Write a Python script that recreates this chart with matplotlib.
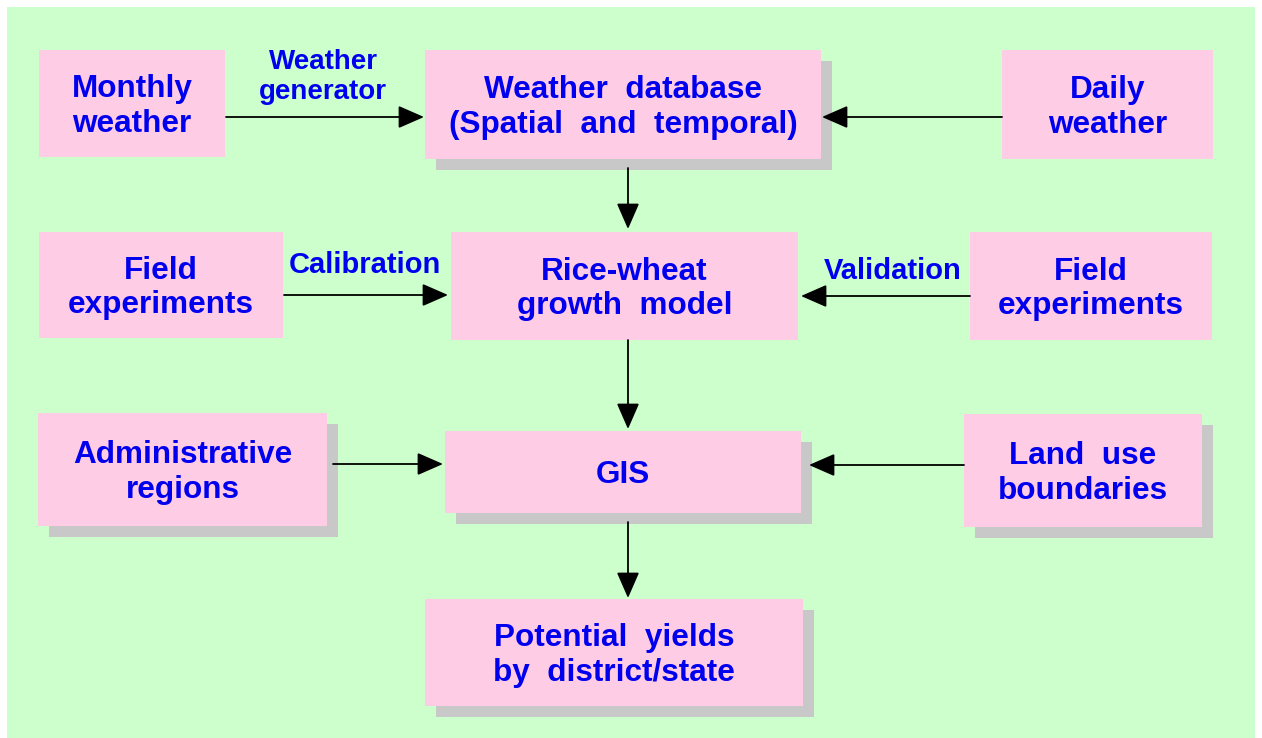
import matplotlib
matplotlib.use("Agg")
import matplotlib.pyplot as plt
from matplotlib.patches import Rectangle

# ---- content ----
box_labels = [
    "Monthly\nweather",
    "Weather  database\n(Spatial  and  temporal)",
    "Daily\nweather",
    "Field\nexperiments",
    "Rice-wheat\ngrowth  model",
    "Field\nexperiments",
    "Administrative\nregions",
    "GIS",
    "Land  use\nboundaries",
    "Potential  yields\nby  district/state",
]
# layout (pixel coords: x0, y0, x1, y1), shadow flag
box_rects = [
    (39, 50, 225, 157),
    (425, 50, 821, 159),
    (1002, 50, 1213, 159),
    (39, 232, 283, 338),
    (451, 232, 798, 340),
    (970, 232, 1212, 340),
    (38, 413, 327, 526),
    (445, 431, 801, 513),
    (964, 414, 1202, 527),
    (425, 599, 803, 706),
]
box_shadow = [False, True, False, False, False, False, True, True, True, True]

edge_labels = ["Weather\ngenerator", "Calibration", "Validation"]
edge_label_pos = [(323, 77), (365, 265), (893, 271)]
edge_label_size = [20, 21, 21]

# arrows: (x_start, y_start, x_end, y_end)
arrows = [
    (226, 117, 424, 117),
    (1002, 117, 822, 117),
    (628, 168, 628, 229),
    (284, 295, 448, 295),
    (970, 296, 801, 296),
    (628, 340, 628, 429),
    (333, 464, 443, 464),
    (964, 465, 809, 465),
    (628, 522, 628, 598),
]

BG = "#ccffcc"
BOX = "#ffcce5"
SHADOW = "#c8c8c8"
TXT = "#0000ee"
FONT = ["Liberation Sans", "DejaVu Sans"]

W, H = 1262, 738
fig = plt.figure(figsize=(W / 100, H / 100), dpi=100)
fig.patch.set_facecolor("white")
ax = fig.add_axes([0, 0, 1, 1])
ax.set_xlim(0, W)
ax.set_ylim(H, 0)
ax.axis("off")

ax.add_patch(Rectangle((7, 7), 1255 - 7, 738 - 7, facecolor=BG, edgecolor="none", zorder=0))

off = 11
for (x0, y0, x1, y1), sh, lab in zip(box_rects, box_shadow, box_labels):
    if sh:
        ax.add_patch(Rectangle((x0 + off, y0 + off), x1 - x0, y1 - y0,
                               facecolor=SHADOW, edgecolor="none", zorder=1))
    ax.add_patch(Rectangle((x0, y0), x1 - x0, y1 - y0,
                           facecolor=BOX, edgecolor="none", zorder=2))
    ax.text((x0 + x1) / 2, (y0 + y1) / 2 + 3, lab, ha="center", va="center",
            fontsize=22.7, fontweight="bold", color=TXT, family=FONT,
            linespacing=1.2, zorder=3)

for lab, (x, y), fs in zip(edge_labels, edge_label_pos, edge_label_size):
    ax.text(x, y, lab, ha="center", va="center", fontsize=fs, fontweight="bold",
            color=TXT, family=FONT, linespacing=1.18, zorder=3)

for xs, ys, xe, ye in arrows:
    ax.annotate("", xy=(xe, ye), xytext=(xs, ys),
                arrowprops=dict(arrowstyle="-|>,head_length=1.6,head_width=0.7",
                                color="black", lw=1.3, shrinkA=0, shrinkB=0),
                zorder=4)

fig.savefig("out.png", dpi=100, facecolor="white")
